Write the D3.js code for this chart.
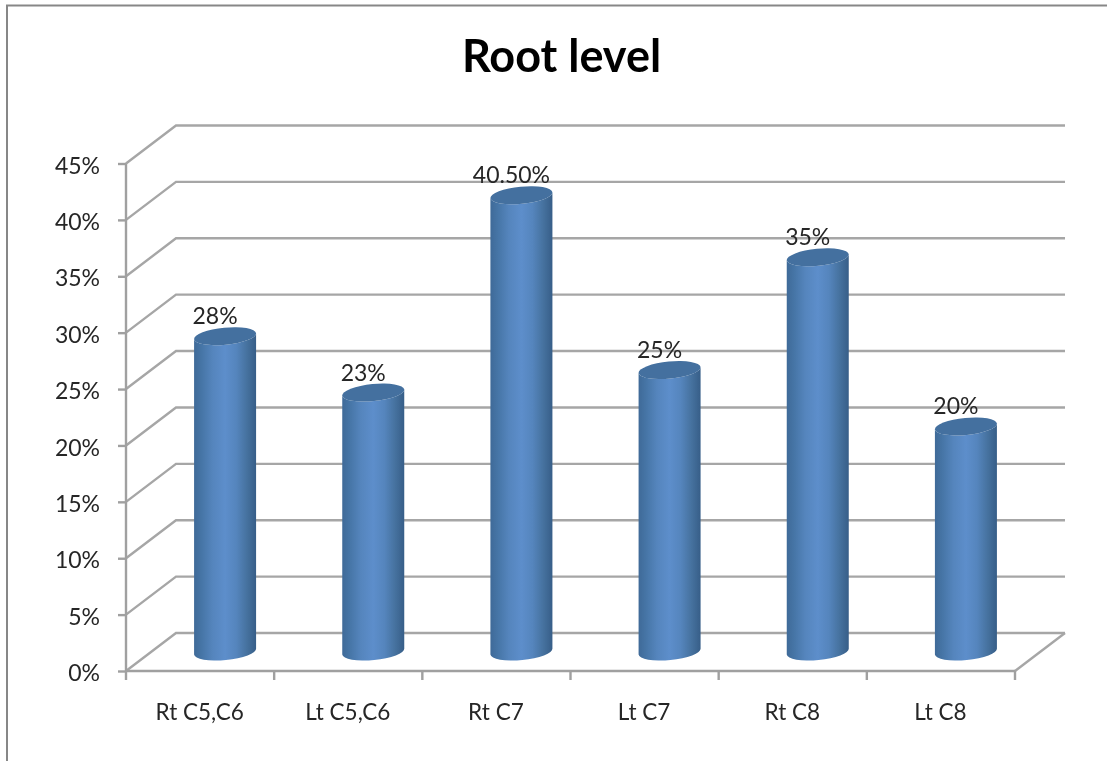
<!DOCTYPE html>
<html><head><meta charset="utf-8">
<script src="https://cdn.jsdelivr.net/npm/d3@7"></script>
<style>html,body{margin:0;padding:0;background:#fff;overflow:hidden}svg{display:block;filter:blur(0.5px)}text{font-family:Lato,"Open Sans",sans-serif;fill:#262626}</style>
</head><body><svg id="c" width="1107" height="761"></svg>
<script>
const categories=["Rt C5,C6","Lt C5,C6","Rt C7","Lt C7","Rt C8","Lt C8"];
const values=[28,23,40.5,25,35,20];
const valueLabels=["28%","23%","40.50%","25%","35%","20%"];
const yTicks=[0,5,10,15,20,25,30,35,40,45];
const title="Root level";

const svg=d3.select("#c");
const x=d3.scaleBand().domain(categories).range([126,1015]).paddingInner(0).paddingOuter(0);
const y=d3.scaleLinear().domain([0,45]).range([671,163.5]);
const depthX=50,depthY=38,grid="#a6a6a6",axisC="#a0a0a0";

const defs=svg.append("defs");
const g=defs.append("linearGradient").attr("id","cyl");
[[0,"#3f6a98"],[.12,"#4675a6"],[.3,"#5585bd"],[.5,"#5d8ecb"],[.68,"#5585bd"],[.85,"#46729f"],[1,"#375e88"]]
 .forEach(s=>g.append("stop").attr("offset",s[0]).attr("stop-color",s[1]));

svg.append("path").attr("d","M7,761V5.5H1107").attr("fill","none").attr("stroke","#878787").attr("stroke-width",2);

svg.append("g").selectAll("path").data(yTicks).join("path")
 .attr("d",d=>`M${x.range()[0]},${y(d)}l${depthX},${-depthY}H${x.range()[1]+depthX}`)
 .attr("fill","none").attr("stroke",grid).attr("stroke-width",2.4);
svg.append("path").attr("d",`M${x.range()[1]},${y(0)}l${depthX},${-depthY}`).attr("fill","none").attr("stroke",grid).attr("stroke-width",2.4);

const axL=svg.append("g").attr("transform",`translate(${x.range()[0]},0)`)
 .call(d3.axisLeft(y).tickValues(yTicks).tickFormat(d=>d+"%").tickSize(8).tickPadding(18));
axL.selectAll("text").attr("font-size",23).attr("dy","0.42em");
const axB=svg.append("g").attr("transform",`translate(0,${y(0)})`)
 .call(d3.axisBottom(x).tickSize(0).tickPadding(33));
axB.selectAll(".tick text").attr("font-size",22.5).attr("dx",-0.5);
axB.append("g").selectAll("line").data(d3.range(categories.length+1)).join("line")
 .attr("x1",i=>x.range()[0]+i*x.step()).attr("x2",i=>x.range()[0]+i*x.step())
 .attr("y1",0).attr("y2",9);
svg.selectAll(".domain,.tick line,g line").attr("stroke",axisC).attr("stroke-width",2.4);
svg.selectAll(".domain").attr("d",function(){return this.parentNode===axL.node()?`M0,${y(45)}V${y(0)}`:`M${x.range()[0]},0H${x.range()[1]}`});

const rx=31,ry=8.5,tilt=3,rot=-5.5;
const bars=svg.append("g").selectAll("g").data(categories).join("g")
 .attr("transform",c=>`translate(${x(c)+x.bandwidth()/2+depthX/2},0)`);
const cyOf=v=>y(v)-depthY/2;
bars.append("path").attr("fill","url(#cyl)")
 .attr("d",(c,i)=>{const t=cyOf(values[i]),b=cyOf(0)-.5;
   return `M${-rx},${t+tilt}L${-rx},${b+tilt}A${rx},${ry} ${rot} 0 0 ${rx},${b-tilt}L${rx},${t-tilt}A${rx},${ry} ${rot} 0 1 ${-rx},${t+tilt}Z`;});
bars.append("path").attr("fill","#44709f")
 .attr("d",(c,i)=>{const t=cyOf(values[i]);
   return `M${-rx},${t+tilt}A${rx},${ry} ${rot} 0 1 ${rx},${t-tilt}A${rx},${ry} ${rot} 0 1 ${-rx},${t+tilt}Z`;});
bars.append("text").text((c,i)=>valueLabels[i]).attr("text-anchor","middle").attr("font-size",23)
 .attr("x",-10).attr("y",(c,i)=>cyOf(values[i])-12);

svg.append("text").text(title).attr("x",561.5).attr("y",72).attr("text-anchor","middle")
 .attr("font-size",45).attr("font-weight",700).style("fill","#000");
</script></body></html>
